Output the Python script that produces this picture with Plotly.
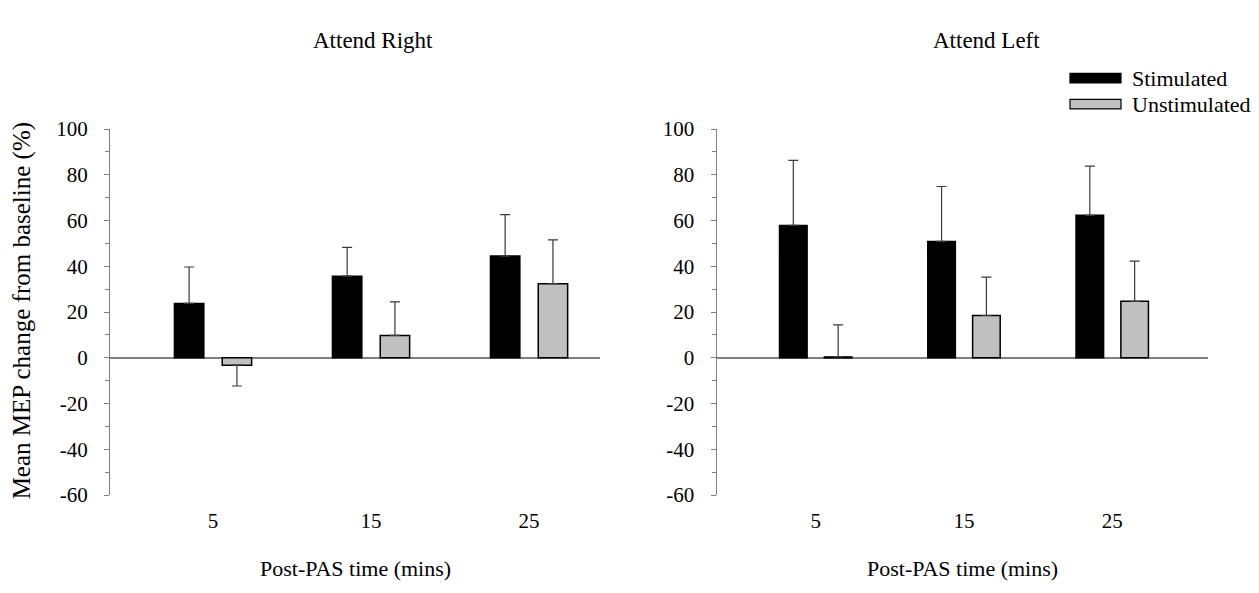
import plotly.graph_objects as go

# Post-PAS time points (mins)
times = ["5", "15", "25"]

# Mean MEP change from baseline (%) and standard errors, Attend Right
right_stim_mean = [23.8, 35.7, 44.5]
right_stim_se = [15.9, 12.6, 18.1]
right_unstim_mean = [-3.2, 9.8, 32.4]
right_unstim_se = [9.1, 14.7, 19.2]

# Attend Left
left_stim_mean = [57.9, 50.9, 62.3]
left_stim_se = [28.4, 24.0, 21.5]
left_unstim_mean = [0.4, 18.5, 24.7]
left_unstim_se = [14.0, 16.8, 17.6]

y_ticks = [-60, -40, -20, 0, 20, 40, 60, 80, 100]
y_tick_text = [str(v) for v in y_ticks]

FONT = "Liberation Serif"
STIM_COLOR = "black"
UNSTIM_COLOR = "#c0c0c0"
AXIS_GRAY = "#808080"
ERR_COLOR = "#3a3a3a"

W, H = 1259, 593


def one_sided(means, ses):
    """Error bars point away from zero: up for positive, down for negative."""
    plus = [s if m >= 0 else 0 for m, s in zip(means, ses)]
    minus = [s if m < 0 else 0 for m, s in zip(means, ses)]
    return plus, minus


def bar_trace(means, ses, color, name, xa, ya):
    plus, minus = one_sided(means, ses)
    return go.Bar(
        x=times, y=means, name=name, xaxis=xa, yaxis=ya, showlegend=False,
        marker=dict(color=color, line=dict(color="black", width=1.5)),
        error_y=dict(type="data", symmetric=False, array=plus, arrayminus=minus,
                     color=ERR_COLOR, thickness=1.2, width=5),
    )


fig = go.Figure()
fig.add_trace(bar_trace(right_stim_mean, right_stim_se, STIM_COLOR, "Stimulated", "x", "y"))
fig.add_trace(bar_trace(right_unstim_mean, right_unstim_se, UNSTIM_COLOR, "Unstimulated", "x", "y"))
fig.add_trace(bar_trace(left_stim_mean, left_stim_se, STIM_COLOR, "Stimulated", "x2", "y2"))
fig.add_trace(bar_trace(left_unstim_mean, left_unstim_se, UNSTIM_COLOR, "Unstimulated", "x2", "y2"))

y_domain = [(H - 503.5) / H, (H - 122) / H]

xaxis_common = dict(
    type="category", showline=False, showgrid=False, zeroline=False, ticks="",
    tickfont=dict(family=FONT, size=21, color="black"), ticklabelstandoff=11,
    fixedrange=True,
)
yaxis_common = dict(
    range=[-60, 100], domain=y_domain, showgrid=False,
    showline=True, linecolor=AXIS_GRAY, linewidth=1.3,
    zeroline=True, zerolinecolor=AXIS_GRAY, zerolinewidth=1.6,
    tickmode="array", tickvals=y_ticks, ticktext=y_tick_text,
    ticks="outside", ticklen=5, tickwidth=1.2, tickcolor=AXIS_GRAY,
    minor=dict(dtick=10, ticks="outside", ticklen=4, tickwidth=1.2, tickcolor=AXIS_GRAY),
    tickfont=dict(family=FONT, size=21, color="black"), ticklabelstandoff=12,
    fixedrange=True,
)

fig.update_layout(
    width=W, height=H,
    margin=dict(l=0, r=0, t=0, b=0),
    paper_bgcolor="white", plot_bgcolor="white",
    barmode="group", bargap=0.395, bargroupgap=0.385,
    showlegend=False,
    font=dict(family=FONT, size=21, color="black"),
    xaxis=dict(domain=[110 / W, 600 / W], range=[-0.652, 2.449], anchor="y", **xaxis_common),
    xaxis2=dict(domain=[716.7 / W, 1208 / W], range=[-0.668, 2.646], anchor="y2", **xaxis_common),
    yaxis=dict(anchor="x", **yaxis_common),
    yaxis2=dict(anchor="x2", **yaxis_common),
)


def text(x, y, s, size, angle=0, xanchor="center"):
    fig.add_annotation(x=x / W, y=1 - y / H, xref="paper", yref="paper", text=s,
                       showarrow=False, textangle=angle, xanchor=xanchor, yanchor="middle",
                       font=dict(family=FONT, size=size, color="black"))


# Panel titles and axis titles
text(373, 30, "Attend Right", 23)
text(986, 30, "Attend Left", 23)
text(355, 580, "Post-PAS time (mins)", 22)
text(962, 580, "Post-PAS time (mins)", 22)
text(22, 312, "Mean MEP change from baseline (%)", 25, angle=-90)

# Legend: swatches with labels
legend_items = [("Stimulated", STIM_COLOR, 69), ("Unstimulated", UNSTIM_COLOR, 96)]
for label, color, yc in legend_items:
    fig.add_shape(type="rect", xref="paper", yref="paper",
                  x0=1070 / W, x1=1121 / W, y0=1 - (yc - 5) / H, y1=1 - (yc + 5) / H,
                  fillcolor=color, line=dict(color="black", width=1.2))
    text(1130, yc, label, 22, xanchor="left")

fig.write_html("out.html")
